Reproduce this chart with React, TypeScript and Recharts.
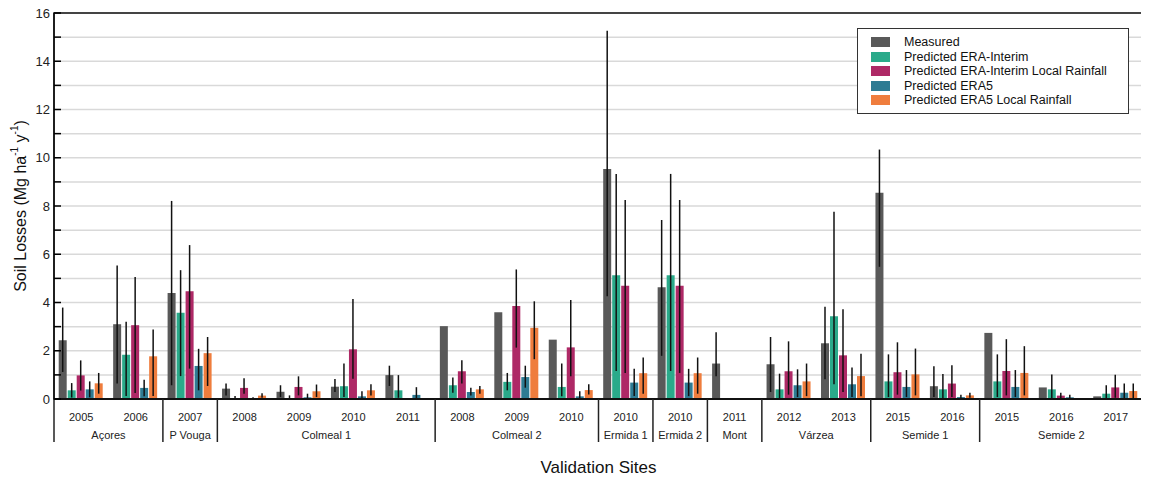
import React from 'react';
import { BarChart, Bar, XAxis, YAxis, CartesianGrid, ErrorBar, Legend, ReferenceArea } from 'recharts';

const years = ['2005', '2006', '2007', '2008', '2009', '2010', '2011', '2008', '2009', '2010', '2010', '2010', '2011', '2012', '2013', '2015', '2016', '2015', '2016', '2017'];
const sites = ['Açores', 'Açores', 'P Vouga', 'Colmeal 1', 'Colmeal 1', 'Colmeal 1', 'Colmeal 1', 'Colmeal 2', 'Colmeal 2', 'Colmeal 2', 'Ermida 1', 'Ermida 2', 'Mont', 'Várzea', 'Várzea', 'Semide 1', 'Semide 1', 'Semide 2', 'Semide 2', 'Semide 2'];
const yTicks = [0, 1, 2, 3, 4, 5, 6, 7, 8, 9, 10, 11, 12, 13, 14, 15, 16];

const measured = [2.44, 3.10, 4.39, 0.43, 0.30, 0.51, 0.99, 3.02, 3.60, 2.46, 9.53, 4.63, 1.47, 1.44, 2.31, 8.55, 0.53, 2.74, 0.48, 0.11];
const measuredLo = [1.12, 0.64, 0.57, 0.15, 0.08, 0.29, 0.54, null, null, null, 4.26, 1.79, 0.94, 0.29, 0.82, 5.48, 0.08, null, null, null];
const measuredHi = [3.79, 5.53, 8.21, 0.64, 0.57, 0.83, 1.38, null, null, null, 15.26, 7.42, 2.77, 2.57, 3.82, 10.34, 1.36, null, null, null];

const eraI = [0.36, 1.83, 3.57, 0.03, 0.04, 0.53, 0.36, 0.57, 0.71, 0.50, 5.13, 5.13, 0, 0.40, 3.43, 0.73, 0.40, 0.73, 0.40, 0.22];
const eraILo = [0.06, 0.12, 0.95, 0, 0, 0.08, 0.05, 0.26, 0.36, 0.11, 1.16, 1.16, null, 0, 0.61, 0.08, 0, 0.08, 0, 0];
const eraIHi = [0.66, 3.2, 5.34, 0.12, 0.15, 1.47, 0.99, 0.89, 1.08, 1.47, 9.33, 9.33, null, 1.05, 7.76, 1.85, 1.04, 1.85, 1.02, 0.57];

const eraILocal = [0.98, 3.06, 4.47, 0.46, 0.50, 2.06, 0.02, 1.15, 3.85, 2.14, 4.69, 4.69, 0, 1.15, 1.81, 1.11, 0.64, 1.16, 0.14, 0.48];
const eraILocalLo = [0.35, 0.25, 1.26, 0.22, 0.15, 0.84, null, 0.64, 2.13, 0.94, 1.08, 1.08, null, 0.18, 0.29, 0.18, 0.08, 0.15, 0.02, 0.05];
const eraILocalHi = [1.6, 5.06, 6.38, 0.86, 0.94, 4.15, null, 1.61, 5.37, 4.10, 8.25, 8.25, null, 2.39, 3.72, 2.35, 1.40, 2.48, 0.26, 1.01];

const era5 = [0.40, 0.46, 1.37, 0.04, 0.07, 0.11, 0.17, 0.29, 0.91, 0.11, 0.68, 0.68, 0, 0.57, 0.61, 0.50, 0.08, 0.50, 0.07, 0.26];
const era5Lo = [0.07, 0.11, 0.36, 0, 0, 0, 0, 0.15, 0.47, 0, 0.12, 0.12, null, 0.08, 0.08, 0.08, 0, 0.08, 0, 0];
const era5Hi = [0.73, 0.80, 2.08, 0.07, 0.22, 0.32, 0.49, 0.47, 1.38, 0.32, 1.25, 1.25, null, 1.23, 1.31, 1.20, 0.18, 1.20, 0.18, 0.64];

const era5Local = [0.65, 1.77, 1.90, 0.14, 0.32, 0.36, 0.01, 0.40, 2.95, 0.37, 1.07, 1.07, 0, 0.73, 0.95, 1.02, 0.15, 1.08, 0.01, 0.33];
const era5LocalLo = [0.22, 0.12, 0.54, 0.05, 0.08, 0.15, null, 0.22, 1.65, 0.19, 0.22, 0.22, null, 0.12, 0.11, 0.15, 0.05, 0.15, null, 0.03];
const era5LocalHi = [1.08, 2.88, 2.57, 0.24, 0.60, 0.61, null, 0.54, 4.05, 0.61, 1.72, 1.72, null, 1.47, 1.88, 2.09, 0.26, 2.19, null, 0.64];

const FONT = '"Liberation Sans", Arial, Helvetica, sans-serif';

const series = [
  { key: 'measured', name: 'Measured', color: '#595959', vals: measured, lo: measuredLo, hi: measuredHi },
  { key: 'eraI', name: 'Predicted ERA-Interim', color: '#2aaa8a', vals: eraI, lo: eraILo, hi: eraIHi },
  { key: 'eraILocal', name: 'Predicted ERA-Interim Local Rainfall', color: '#ae2966', vals: eraILocal, lo: eraILocalLo, hi: eraILocalHi },
  { key: 'era5', name: 'Predicted ERA5', color: '#2e7b93', vals: era5, lo: era5Lo, hi: era5Hi },
  { key: 'era5Local', name: 'Predicted ERA5 Local Rainfall', color: '#ef7d3d', vals: era5Local, lo: era5LocalLo, hi: era5LocalHi },
];

const data = years.map((y, i) => {
  const row: any = { id: `${sites[i]}-${y}`, year: y, site: sites[i] };
  series.forEach((s) => {
    row[s.key] = s.vals[i];
    const lo = s.lo[i];
    const hi = s.hi[i];
    row[s.key + 'Err'] = lo == null || hi == null ? [0, 0] : [Math.max(0, s.vals[i] - lo), Math.max(0, hi - s.vals[i])];
  });
  return row;
});

const groupCount = (i: number) => sites.filter((s) => s === sites[i]).length;
const isFirst = (i: number) => i === 0 || sites[i - 1] !== sites[i];

const XTick = (props: any) => {
  const { x, y, payload } = props;
  const i = payload.index;
  const half = payload.offset != null && payload.offset > 0 ? payload.offset : 1089 / 40;
  const els: any[] = [];
  els.push(
    <text key="yr" x={x} y={y + 22} textAnchor="middle" fontSize={11} fontFamily={FONT} fill="#222">
      {years[i]}
    </text>
  );
  if (isFirst(i)) {
    const n = groupCount(i);
    els.push(<line key="sep" x1={x - half} x2={x - half} y1={y} y2={y + 43} stroke="#222" strokeWidth={1.5} />);
    els.push(
      <text key="site" x={x - half + n * half} y={y + 40} textAnchor="middle" fontSize={11} fontFamily={FONT} fill="#222">
        {sites[i]}
      </text>
    );
  }
  if (i === years.length - 1) {
    els.push(<line key="sepR" x1={x + half} x2={x + half} y1={y} y2={y + 43} stroke="#222" strokeWidth={1.5} />);
  }
  return <g>{els}</g>;
};

const YTick = (props: any) => {
  const { x, y, payload } = props;
  return (
    <g>
      <line x1={x + 4} x2={x + 11} y1={y} y2={y} stroke="#000" strokeWidth={1.5} />
      {payload.value % 2 === 0 && (
        <text x={x} y={y} dy="0.36em" textAnchor="end" fontSize={13} fontFamily={FONT} fill="#222">
          {payload.value}
        </text>
      )}
    </g>
  );
};

const YLabel = (props: any) => {
  const vb = props.viewBox || { x: 14, y: 13, width: 40, height: 386 };
  const cx = vb.x + 6;
  const cy = vb.y + vb.height / 2;
  return (
    <text transform={`translate(${cx}, ${cy}) rotate(-90)`} textAnchor="middle" dominantBaseline="central" fontSize={16} fontFamily={FONT} fill="#111">
      <tspan>Soil Losses (Mg ha</tspan>
      <tspan dy={-6} fontSize={10}>-1</tspan>
      <tspan dy={6}> y</tspan>
      <tspan dy={-6} fontSize={10}>-1</tspan>
      <tspan dy={6}>)</tspan>
    </text>
  );
};

const LegendBox = () => (
  <div
    style={{
      border: '1.5px solid #333',
      background: '#fff',
      width: 272,
      height: 86,
      boxSizing: 'border-box',
      paddingTop: 6,
      paddingLeft: 13,
      fontFamily: FONT,
      fontSize: 12.5,
      color: '#111',
    }}
  >
    {series.map((s) => (
      <div key={s.key} style={{ display: 'flex', alignItems: 'center', height: 14.5 }}>
        <div style={{ width: 19, height: 10, background: s.color, marginRight: 14 }} />
        <span style={{ lineHeight: '14.5px' }}>{s.name}</span>
      </div>
    ))}
  </div>
);

export default function App() {
  return (
    <div style={{ width: 1149, height: 479, marginTop: -8, marginLeft: -8 }}>
      <BarChart
        width={1149}
        height={479}
        data={data}
        margin={{ top: 13, right: 6, bottom: 0, left: 14 }}
        barCategoryGap={4.7}
        barGap={1}
      >
        <CartesianGrid vertical={false} stroke="#d9d9d9" strokeWidth={1.5} />
        <XAxis
          dataKey="id"
          interval={0}
          height={80}
          tickLine={false}
          tickSize={0}
          tickMargin={0}
          axisLine={{ stroke: '#111', strokeWidth: 2 }}
          tick={<XTick />}
          label={{ value: 'Validation Sites', position: 'insideBottom', offset: 6, fontSize: 17, fontFamily: FONT, fill: '#111' }}
        />
        <YAxis
          width={40}
          domain={[0, 16]}
          ticks={yTicks}
          interval={0}
          tickLine={false}
          tickSize={0}
          tickMargin={4}
          axisLine={{ stroke: '#111', strokeWidth: 1.5 }}
          tick={<YTick />}
          label={<YLabel />}
        />
        <ReferenceArea y1={0} y2={16} stroke="#111" strokeWidth={1.5} fill="none" fillOpacity={0} ifOverflow="visible" />
        {series.map((s) => (
          <Bar key={s.key} dataKey={s.key} name={s.name} fill={s.color} isAnimationActive={false}>
            <ErrorBar dataKey={s.key + 'Err'} width={0} stroke="#111" strokeWidth={1.5} direction="y" />
          </Bar>
        ))}
        <Legend
          layout="vertical"
          align="center"
          verticalAlign="middle"
          content={<LegendBox />}
          wrapperStyle={{ position: 'absolute', top: 28, left: 857, width: 272, height: 86 }}
        />
      </BarChart>
    </div>
  );
}
